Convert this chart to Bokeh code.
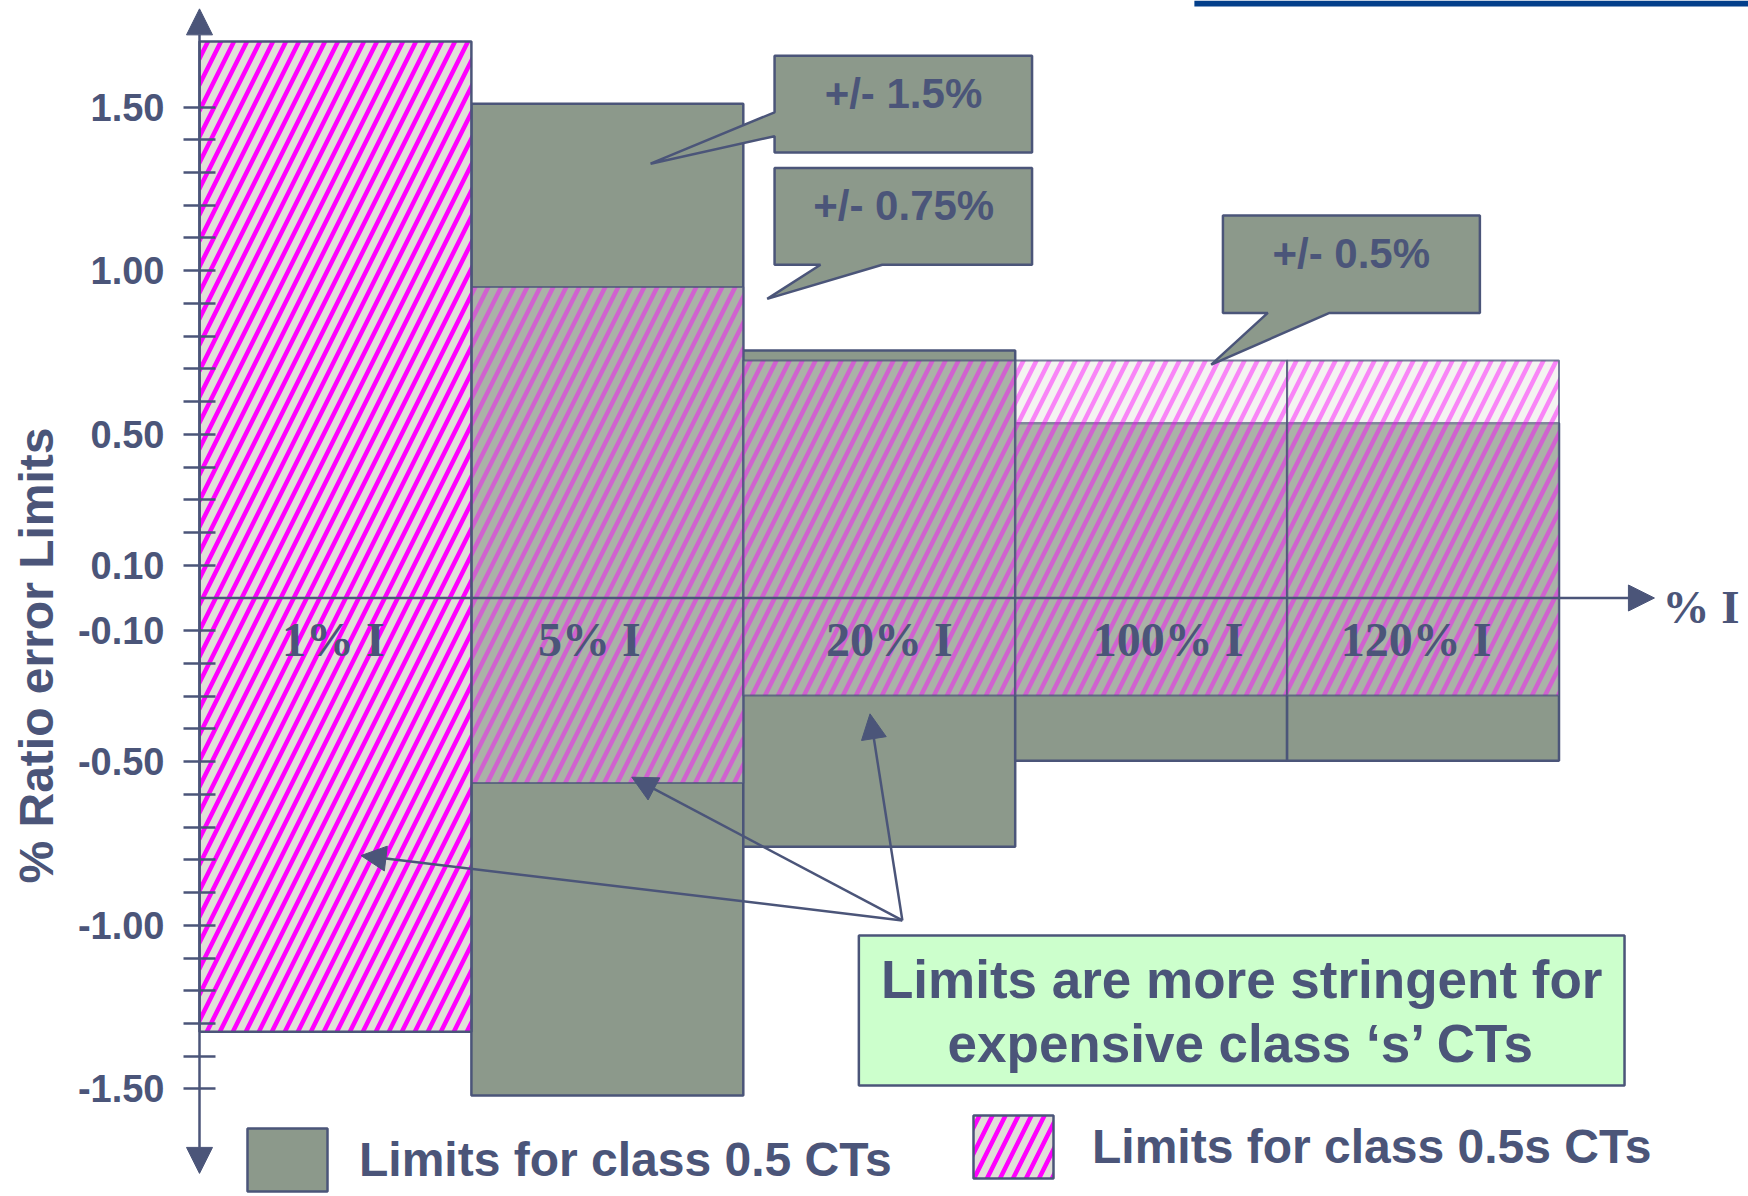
import math
from bokeh.plotting import figure
from bokeh.models import (ColumnDataSource, FixedTicker, NumeralTickFormatter, Arrow,
                          NormalHead, Label, Legend, LegendItem, Range1d, BoxAnnotation)
from bokeh.core.properties import value
from bokeh.embed import file_html
from bokeh.resources import INLINE

# ---------------- data ----------------
categories = ["1% I", "5% I", "20% I", "100% I", "120% I"]
class05_upper = [None, 1.51, 0.756, 0.534, 0.534]      # class 0.5 CTs
class05_lower = [None, -1.52, -0.76, -0.497, -0.497]
class05s_upper = [1.70, 0.95, 0.726, 0.726, 0.726]     # class 0.5s CTs
class05s_lower = [-1.325, -0.565, -0.298, -0.298, -0.298]
y_tick_values = [-1.5, -1.0, -0.5, -0.1, 0.1, 0.5, 1.0, 1.5]
y_minor_ticks = [-1.4, -1.3, -1.2, -1.1, -0.9, -0.8, -0.7, -0.6, -0.4, -0.3, -0.2,
                 0.2, 0.3, 0.4, 0.6, 0.7, 0.8, 0.9, 1.1, 1.2, 1.3, 1.4]
callout_texts = ["+/- 1.5%", "+/- 0.75%", "+/- 0.5%"]
note_lines = ["Limits are more stringent for", "expensive class \u2018s\u2019 CTs"]
legend_labels = ["Limits for class 0.5 CTs", "Limits for class 0.5s CTs"]
y_title = "% Ratio error Limits"
x_title = "% I"

# ---------------- style ----------------
DARK = "#4B5579"
GRAY = "#8C998B"
PINK = "#FF00FF"
PINK_BG = "#E0DFD8"
SANS = "Liberation Sans"
SERIF = "Liberation Serif"

W, H = 1748, 1196
AXIS_PX = 199          # pixel column of x = 0
PX_X = 271.9
PX_Y = 327.3
ZERO_PX = 597.5
x_start = -AXIS_PX / PX_X
x_end = (W - AXIS_PX) / PX_X
y_end = ZERO_PX / PX_Y
y_start = -(H - ZERO_PX) / PX_Y

p = figure(width=W, height=H, output_backend="svg", toolbar_location=None,
           x_range=Range1d(x_start, x_end), y_range=Range1d(y_start, y_end),
           x_axis_location=None, y_axis_location="left",
           min_border_left=0, min_border_right=0, min_border_top=0, min_border_bottom=0)
p.grid.visible = False
p.outline_line_color = None
p.background_fill_color = "white"
p.border_fill_color = "white"

yax = p.yaxis[0]
yax.fixed_location = 0
yax.ticker = FixedTicker(ticks=y_tick_values, minor_ticks=y_minor_ticks)
yax.formatter = NumeralTickFormatter(format="0.00")
yax.axis_line_color = None
yax.major_tick_in = 16
yax.major_tick_out = 16
yax.minor_tick_in = 16
yax.minor_tick_out = 16
yax.major_tick_line_color = DARK
yax.minor_tick_line_color = DARK
yax.major_tick_line_width = 2.5
yax.minor_tick_line_width = 2.5
yax.major_label_text_font = SANS
yax.major_label_text_font_size = "38px"
yax.major_label_text_font_style = "bold"
yax.major_label_text_color = DARK
yax.major_label_standoff = 19

p.add_layout(Label(x=-0.6006, y=-0.1757, text=y_title, angle=math.pi / 2, text_font=SANS,
                   text_font_style="bold", text_font_size="48px", text_color=DARK,
                   text_align="center", text_baseline="middle"))

HATCH = dict(hatch_pattern="/", hatch_color=PINK, hatch_scale=26, hatch_weight=4.5)

n = len(categories)
g_idx = [i for i in range(n) if class05_upper[i] is not None]
s_idx = [i for i in range(n) if class05_upper[i] is None]

gray_src = ColumnDataSource(dict(
    left=[i for i in g_idx], right=[i + 1 for i in g_idx],
    top=[class05_upper[i] for i in g_idx], bottom=[class05_lower[i] for i in g_idx]))
gray_r = p.quad(left="left", right="right", top="top", bottom="bottom", source=gray_src,
                fill_color=GRAY, line_color=DARK, line_width=2.5)

over_src = ColumnDataSource(dict(
    left=[i for i in g_idx], right=[i + 1 for i in g_idx],
    top=[class05s_upper[i] for i in g_idx], bottom=[class05s_lower[i] for i in g_idx]))
p.quad(left="left", right="right", top="top", bottom="bottom", source=over_src,
       fill_color=PINK_BG, fill_alpha=0.36, hatch_alpha=0.45, **HATCH,
       line_color=DARK, line_alpha=0.75, line_width=2)

solid_src = ColumnDataSource(dict(
    left=[i for i in s_idx], right=[i + 1 for i in s_idx],
    top=[class05s_upper[i] for i in s_idx], bottom=[class05s_lower[i] for i in s_idx]))
pink_r = p.quad(left="left", right="right", top="top", bottom="bottom", source=solid_src,
                fill_color=PINK_BG, **HATCH, line_color=DARK, line_width=2.5)

# category labels inside the bars (small hand-placed nudges, in pixels)
LABEL_Y = -0.126
label_nudge_px = [-2, -18, 10, 17, -7]
cat_src = ColumnDataSource(dict(x=[i + 0.5 + d / PX_X for i, d in enumerate(label_nudge_px)],
                                y=[LABEL_Y] * n, text=categories))
p.text(x="x", y="y", text="text", source=cat_src, text_font=value(SERIF),
       text_font_style="bold", text_font_size="48px", text_color=DARK,
       text_align="center", text_baseline="alphabetic")

# axes with arrows
def head(s):
    return NormalHead(size=s, fill_color=DARK, line_color=DARK, line_width=1)

p.add_layout(Arrow(start=head(26), end=head(26), x_start=0, y_start=-1.758, x_end=0, y_end=1.80,
                   line_color=DARK, line_width=2.5))
p.add_layout(Arrow(end=head(26), x_start=0, y_start=0, x_end=5.351, y_end=0,
                   line_color=DARK, line_width=2.5))
p.add_layout(Label(x=5.381, y=-0.026, text=x_title, text_font=SERIF, text_font_style="bold",
                   text_font_size="47px", text_color=DARK, text_align="left",
                   text_baseline="alphabetic"))

# header rule (top right)
p.add_layout(BoxAnnotation(left=3.659, bottom=1.807, fill_color="#033F8B", fill_alpha=1,
                           line_color=None))

# callouts
callout_xs = [
    [2.115, 3.062, 3.062, 2.115, 2.115, 1.659, 2.115],
    [2.115, 3.062, 3.062, 2.511, 2.088, 2.284, 2.115],
    [3.764, 4.709, 4.709, 4.156, 3.721, 3.929, 3.764],
]
callout_ys = [
    [1.657, 1.657, 1.361, 1.361, 1.411, 1.327, 1.484],
    [1.314, 1.314, 1.018, 1.018, 0.914, 1.018, 1.018],
    [1.169, 1.169, 0.871, 0.871, 0.713, 0.871, 0.871],
]
p.patches(xs=callout_xs, ys=callout_ys, fill_color=GRAY, line_color=DARK, line_width=2.5)
callout_pos = [(2.589, 1.541), (2.590, 1.1995), (4.236, 1.052)]
for (cx, cy), t in zip(callout_pos, callout_texts):
    p.add_layout(Label(x=cx, y=cy, text=t, text_font=SANS, text_font_style="bold",
                       text_font_size="42px", text_color=DARK, text_align="center",
                       text_baseline="alphabetic"))

# note box with pointer arrows
p.add_layout(BoxAnnotation(left=2.425, right=5.241, top=-1.031, bottom=-1.4895,
                           fill_color="#CCFFCC", fill_alpha=1, line_color=DARK,
                           line_width=2.5, line_alpha=1))
for ny, t in zip([-1.1653, -1.3599], note_lines):
    p.add_layout(Label(x=3.833, y=ny, text=t, text_font=SANS, text_font_style="bold",
                       text_font_size="53px", text_color=DARK, text_align="center",
                       text_baseline="alphabetic"))
for tx, ty in [(0.594, -0.787), (1.590, -0.5475), (2.466, -0.354)]:
    p.add_layout(Arrow(end=head(25), x_start=2.585, y_start=-0.985, x_end=tx, y_end=ty,
                       line_color=DARK, line_width=2.5))

# legends (location is measured from the frame's bottom-left corner)
def make_legend(label, rend, x_px, y_px, standoff):
    return Legend(items=[LegendItem(label=label, renderers=[rend])],
                  location=(x_px, y_px),
                  glyph_width=100, glyph_height=79, label_height=79, label_standoff=standoff,
                  padding=0, margin=0, spacing=0, border_line_color=None,
                  background_fill_alpha=0, label_text_font=SANS,
                  label_text_font_size="48px", label_text_font_style="bold",
                  label_text_color=DARK)

p.add_layout(make_legend(legend_labels[0], gray_r, 237, -3, 22))
p.add_layout(make_legend(legend_labels[1], pink_r, 963, 10, 29))

open("out.html", "w").write(file_html(p, INLINE, title="Ratio error limits"))
